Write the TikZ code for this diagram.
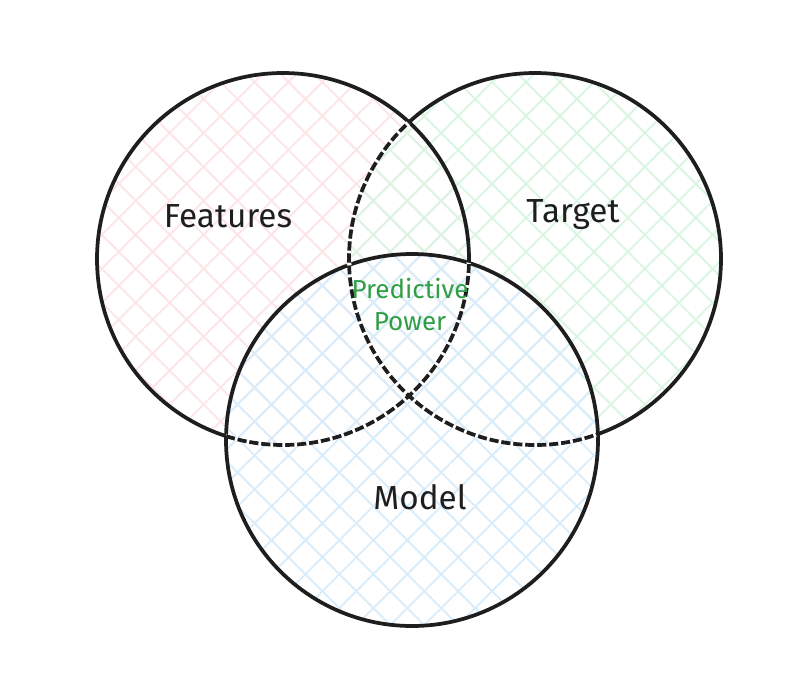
\documentclass[tikz,border=0pt]{standalone}
\usepackage{fontspec}
\setmainfont{Fira Sans}
\usetikzlibrary{patterns.meta}
\definecolor{ink}{HTML}{1E1E1E}
\definecolor{overlapgreen}{HTML}{2F9E44}
\definecolor{featurespink}{HTML}{FCE4E7}
\definecolor{targetgreen}{HTML}{DAF5E1}
\definecolor{modelblue}{HTML}{D9ECFB}

\begin{document}
\begin{tikzpicture}[
    x=0.75pt, y=-0.75pt,
    set/.style={
      circle,
      minimum size=279pt,
      inner sep=0pt,
      pattern={Hatch[angle=45,distance=18pt,line width=1.4pt]},
      pattern color=#1
    },
    ring/.style={draw=ink, line width=2.8pt},
    cut/.style={draw=white, line width=3.4pt, dash pattern=on 2pt off 7pt},
    settext/.style={font=\fontsize{25}{30}\selectfont, text=ink},
]
    \useasboundingbox (0,0) rectangle (807,676);

    \node [set=featurespink] (features) at (283,259) {};
    \node [set=targetgreen] (target) at (535,259) {};
    \node [set=modelblue] (model) at (412,440) {};

    \foreach \s in {features,target,model}
      \draw [ring] (\s.center) circle [radius=139.5pt];

    \begin{scope}
      \clip (features.center) circle [radius=139.5pt];
      \draw [cut] (target.center) circle [radius=139.5pt];
    \end{scope}
    \begin{scope}
      \clip (model.center) circle [radius=139.5pt];
      \draw [cut] (features.center) circle [radius=139.5pt];
      \draw [cut] (target.center) circle [radius=139.5pt];
    \end{scope}

    \node [settext] (featurestext) at (228,216) {Features};
    \node [settext] (targettext) at (573,215) {Target};
    \node [settext] (modeltext) at (420,497) {Model};
    \node [settext, text=overlapgreen, font=\fontsize{19.5}{24}\selectfont, align=center] (powertext) at (410,305) {Predictive\\Power};
\end{tikzpicture}
\end{document}
